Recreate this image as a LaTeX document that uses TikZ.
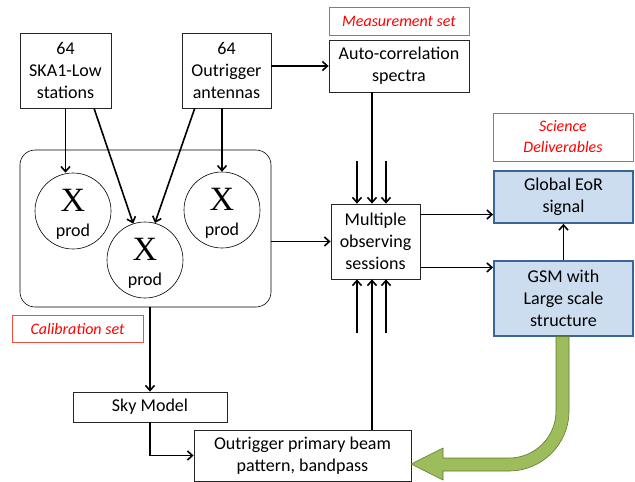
\documentclass[tikz,border=0pt]{standalone}
\usepackage{fontspec}
\setmainfont{Carlito}
\newfontfamily\xfont{Liberation Serif}
\usetikzlibrary{arrows.meta}
\definecolor{redline}{HTML}{F5503A}
\definecolor{bluefill}{HTML}{CCDDF0}
\definecolor{blueline}{HTML}{3B6597}
\definecolor{greenfill}{HTML}{9DBC5B}
\definecolor{greenline}{HTML}{5E7A30}
\newcommand{\xprod}{\raisebox{0pt}[28pt][0pt]{\xfont\fontsize{34}{34}\selectfont X}\\prod}

\begin{document}
\begin{tikzpicture}[x=1pt,y=-1pt,
	box/.style={draw=black!85,line width=0.8pt,align=center,inner sep=0pt,font=\fontsize{18}{22}\selectfont},
	redbox/.style={draw=redline,line width=1pt,align=center,inner sep=0pt,text=red,font=\fontsize{16}{21}\selectfont\itshape},
	bluebox/.style={box,draw=blueline,fill=bluefill,line width=1.8pt},
	prod/.style={circle,draw,line width=0.6pt,minimum size=76pt,inner sep=0pt,align=center,
		font=\fontsize{18}{25}\selectfont},
	fl/.style={-{Straight Barb[length=5pt,width=9pt]},line width=1.6pt}]
	\useasboundingbox (0,0) rectangle (635,482);

	%entrees
	\node[box,minimum width=91pt,minimum height=75pt] (ska) at (65.5,70.5) {64\\SKA1-Low\\stations};
	\node[box,minimum width=89pt,minimum height=75pt] (outr) at (226.5,70.5) {64\\Outrigger\\antennas};

	%correlateur
	\node[draw,line width=0.6pt,rounded corners=15pt,minimum width=251pt,minimum height=157pt] (corr) at (145.5,228.5) {};
	\node[prod] (c1) at (73,211) {\xprod};
	\node[prod] (c2) at (145,260) {\xprod};
	\node[prod] (c3) at (222,210) {\xprod};
	\node[redbox,minimum width=131pt,minimum height=27pt] (cal) at (77.5,328.5) {Calibration set};

	%mesures
	\node[redbox,minimum width=140pt,minimum height=28pt] (meas) at (399,21) {Measurement set};
	\node[box,minimum width=140pt,minimum height=52pt] (auto) at (399,66) {Auto-correlation\\spectra};
	\node[box,minimum width=89pt,minimum height=75pt] (multi) at (375.5,241.5) {Multiple\\observing\\sessions};

	%resultats
	\node[redbox,minimum width=140pt,minimum height=48pt] (sci) at (563,137) {Science\\Deliverables};
	\node[bluebox,minimum width=139pt,minimum height=52pt] (eor) at (563.5,197) {Global EoR\\signal};
	\node[bluebox,minimum width=139pt,minimum height=75pt] (gsm) at (563.5,298.5) {GSM with\\Large scale\\structure};

	\node[box,minimum width=154pt,minimum height=30pt] (sky) at (150,407) {Sky Model};
	\node[box,minimum width=217pt,minimum height=51pt] (beam) at (302.5,455.5) {Outrigger primary beam\\pattern, bandpass};

	%fleches
	\draw[fl] (ska.south) -- (ska.south |- c1.north);
	\draw[fl] (ska.-53.7) -- (c2.108);
	\draw[fl] (outr.-130.9) -- (c2.75);
	\draw[fl] (outr.south -| c3.north) -- (c3.north);
	\draw[fl] (outr.east |- auto.west) -- (auto.west);

	\coordinate (tl) at (357,161);
	\coordinate (tm) at (372,161);
	\coordinate (tr) at (386,161);
	\coordinate (bl) at (357,333);
	\coordinate (br) at (386,333);
	\draw[fl] (auto.south -| tm) -- (tm |- multi.north);
	\draw[fl] (tl) -- (tl |- multi.north);
	\draw[fl] (tr) -- (tr |- multi.north);
	\draw[fl] (beam.north -| tm) -- (tm |- multi.south);
	\draw[fl] (bl) -- (bl |- multi.south);
	\draw[fl] (br) -- (br |- multi.south);

	\draw[fl] (corr.east |- multi.west) -- (multi.west);
	\draw[fl] (multi.31.7) -- (multi.31.7 -| eor.west);
	\draw[fl] (multi.-30.8) -- (multi.-30.8 -| gsm.west);
	\draw[fl] (gsm.north) -- (eor.south);

	\draw[fl] (corr.south -| sky.north) -- (sky.north);
	\draw[fl] (sky.south) |- (beam.west);

	%grosse fleche verte
	\filldraw[fill=greenfill,draw=greenline,line width=0.6pt]
		(556,336.5) -- (569,336.5) -- (569,411)
		.. controls (569,444.1) and (542.1,471) .. (509,471)
		-- (443,471) -- (443,480) -- (411,464) -- (443,448) -- (443,458) -- (509,458)
		.. controls (535,458) and (556,437) .. (556,411) -- cycle;
\end{tikzpicture}
\end{document}
